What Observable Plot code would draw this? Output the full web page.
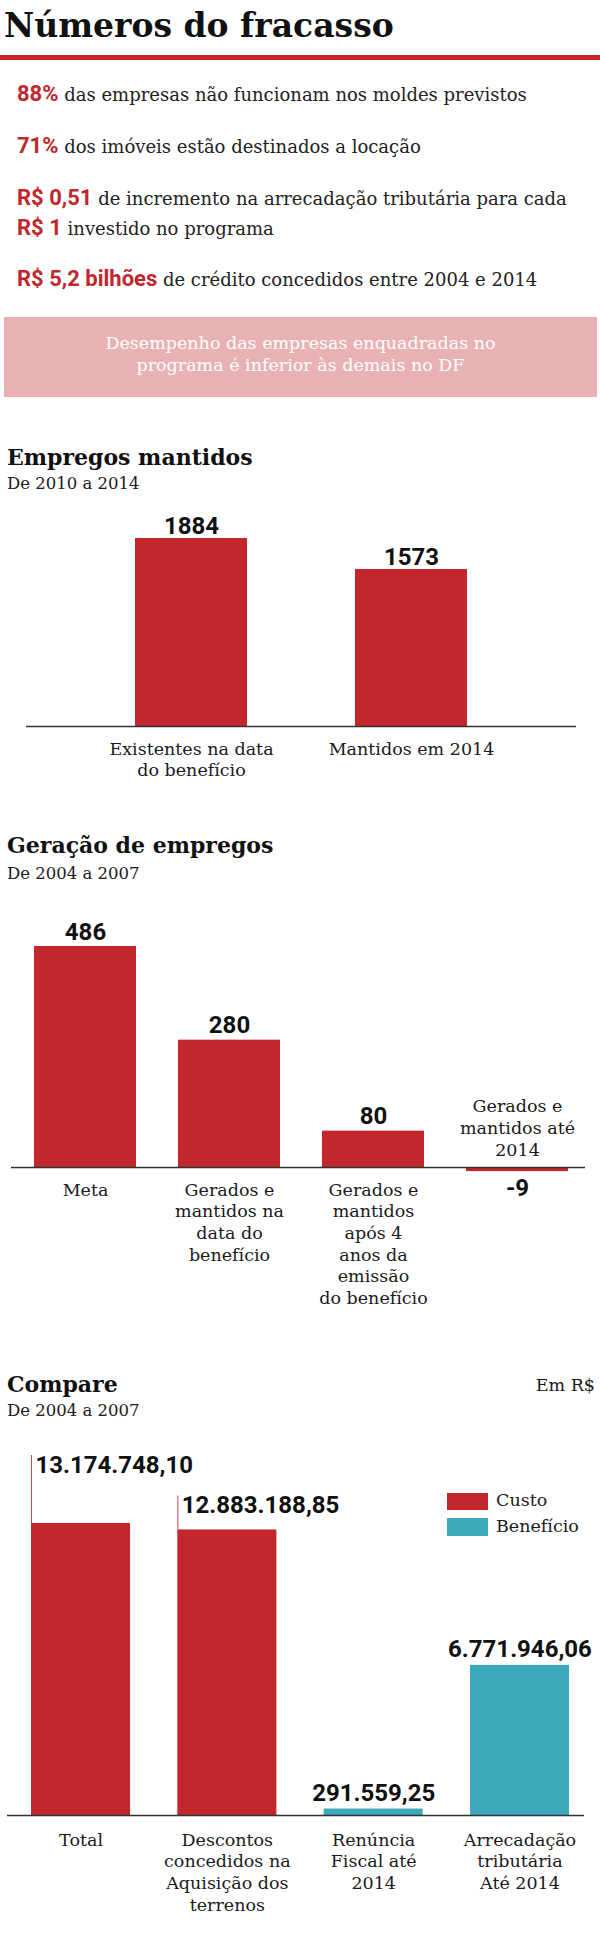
<!DOCTYPE html>
<html><head><meta charset="utf-8">
<script src="https://cdn.jsdelivr.net/npm/d3@7"></script>
<script src="https://cdn.jsdelivr.net/npm/@observablehq/plot@0.6"></script>
<style>
html,body{margin:0;padding:0;background:#fff;}
#page{position:relative;width:600px;height:1937px;overflow:hidden;font-family:"DejaVu Serif",serif;color:#1a1a1a;}
.t{position:absolute;white-space:nowrap;}
.num{font-family:Roboto,sans-serif;font-weight:700;color:#c1272d;}
</style></head><body><div id="page"></div>
<script>
// ---------- data ----------
const headline = "Números do fracasso";
const statNumbers = ["88%", "71%", "R$ 0,51", "R$ 1", "R$ 5,2 bilhões"];
const statTexts = [
  "das empresas não funcionam nos moldes previstos",
  "dos imóveis estão destinados a locação",
  "de incremento na arrecadação tributária para cada",
  "investido no programa",
  "de crédito concedidos entre 2004 e 2014"
];
const bannerLines = ["Desempenho das empresas enquadradas no", "programa é inferior às demais no DF"];

const empregosTitle = "Empregos mantidos";
const empregosSub = "De 2010 a 2014";
const empregosCats = ["Existentes na data\ndo benefício", "Mantidos em 2014"];
const empregosVals = [1884, 1573];

const geracaoTitle = "Geração de empregos";
const geracaoSub = "De 2004 a 2007";
const geracaoCats = [
  "Meta",
  "Gerados e\nmantidos na\ndata do\nbenefício",
  "Gerados e\nmantidos\napós 4\nanos da\nemissão\ndo benefício",
  "Gerados e\nmantidos até\n2014"
];
const geracaoVals = [486, 280, 80, -9];

const compareTitle = "Compare";
const compareSub = "De 2004 a 2007";
const compareUnit = "Em R$";
const compareCats = [
  "Total",
  "Descontos\nconcedidos na\nAquisição dos\nterrenos",
  "Renúncia\nFiscal até\n2014",
  "Arrecadação\ntributária\nAté 2014"
];
const compareVals = [13174748.10, 12883188.85, 291559.25, 6771946.06];
const compareTypes = ["Custo", "Custo", "Benefício", "Benefício"];
const legendKeys = ["Custo", "Benefício"];

// ---------- style ----------
const RED = "#c1272d", TEAL = "#3ba9bb", PINK = "#e8b2b5", INK = "#1a1a1a";
const page = document.getElementById("page");
const fmtBR = d3.formatLocale({decimal: ",", thousands: ".", grouping: [3], currency: ["R$ ", ""]}).format(",.2f");

function put(content, {x, base, size, L = size, font = "DejaVu Serif", weight = 400, color = INK, anchor = "start", asc}) {
  const d = document.createElement("div");
  d.className = "t";
  if (typeof content === "string") d.textContent = content; else d.appendChild(content);
  d.style.fontFamily = font;
  d.style.fontSize = size + "px";
  d.style.lineHeight = L + "px";
  d.style.fontWeight = weight;
  d.style.color = color;
  const a = asc ?? 0.346 * size;
  d.style.top = (base - L / 2 - a) + "px";
  if (anchor === "end") d.style.right = (600 - x) + "px";
  else if (anchor === "middle") { d.style.left = (x - 300) + "px"; d.style.width = "600px"; d.style.textAlign = "center"; }
  else d.style.left = x + "px";
  page.appendChild(d);
  return d;
}
function box(x, y, w, h, color) {
  const d = document.createElement("div");
  Object.assign(d.style, {position: "absolute", left: x + "px", top: y + "px", width: w + "px", height: h + "px", background: color});
  page.appendChild(d);
  return d;
}
function mount(svg, top) {
  svg.style.position = "absolute";
  svg.style.left = "0px";
  svg.style.top = top + "px";
  svg.style.background = "transparent";
  svg.style.overflow = "visible";
  page.appendChild(svg);
}

// ---------- header ----------
put(headline, {x: 4, base: 37, size: 33, weight: 700, color: "#111"});
box(0, 55, 600, 5, RED);

const statBase = [102, 154, 206, 236, 287];
statNumbers.forEach((n, i) => {
  const frag = document.createDocumentFragment();
  const s = document.createElement("span");
  s.className = "num";
  s.style.fontSize = "22px";
  s.textContent = n;
  frag.appendChild(s);
  frag.appendChild(document.createTextNode(" " + statTexts[i]));
  put(frag, {x: 17, base: statBase[i], size: 18, L: 24, asc: 0.342 * 22, color: "#222"});
});

box(4, 317, 593, 80, PINK);
put(bannerLines[0], {x: 300.5, base: 350, size: 17.5, anchor: "middle", color: "#fff"});
put(bannerLines[1], {x: 300.5, base: 372, size: 17.5, anchor: "middle", color: "#fff"});

// ---------- shared chart styles ----------
const chartStyle = {fontFamily: "DejaVu Serif", fontSize: "17.5px", color: INK, background: "transparent", overflow: "visible"};
const valStyle = {fontFamily: "Roboto", fontWeight: 700, fontSize: 24, fill: "#111"};
const axisRule = {stroke: "#333", strokeWidth: 1.5};

// ---------- chart 1 ----------
put(empregosTitle, {x: 7, base: 465, size: 22, weight: 700, color: "#111"});
put(empregosSub, {x: 7, base: 490, size: 16.5});
const d1 = empregosCats.map((c, i) => ({cat: c, value: empregosVals[i]}));
const chart1 = Plot.plot({
  width: 600, height: 300,
  marginTop: 38, marginBottom: 74, marginLeft: 26, marginRight: 24,
  x: {domain: empregosCats, padding: 0.49, axis: null},
  y: {axis: null},
  style: chartStyle,
  marks: [
    Plot.barY(d1, {x: "cat", y: "value", fill: RED}),
    Plot.ruleY([0], axisRule),
    Plot.text(d1, {x: "cat", y: "value", text: d => String(d.value), lineAnchor: "bottom", dy: -5, ...valStyle}),
    Plot.text(d1, {x: "cat", y: 0, text: "cat", lineAnchor: "top", dy: 13.6, lineHeight: 1.2, fontSize: 17.5})
  ]
});
mount(chart1, 500);

// ---------- chart 2 ----------
put(geracaoTitle, {x: 7, base: 853, size: 22, weight: 700, color: "#111"});
put(geracaoSub, {x: 7, base: 880, size: 16.5});
const d2 = geracaoCats.map((c, i) => ({cat: c, value: geracaoVals[i]}));
const pos2 = d2.filter(d => d.value >= 0), neg2 = d2.filter(d => d.value < 0);
const chart2 = Plot.plot({
  width: 600, height: 440,
  marginTop: 56, marginBottom: 158.9, marginLeft: 11, marginRight: 15,
  x: {domain: geracaoCats, range: [33, 569], paddingInner: 0.29, paddingOuter: 0, axis: null},
  y: {axis: null},
  style: chartStyle,
  marks: [
    Plot.barY(d2, {x: "cat", y: "value", fill: RED}),
    Plot.ruleY([0], axisRule),
    Plot.text(pos2, {x: "cat", y: "value", text: d => String(d.value), lineAnchor: "bottom", dy: -7, ...valStyle}),
    Plot.text(neg2, {x: "cat", y: "value", text: d => String(d.value), lineAnchor: "top", dy: 7, ...valStyle}),
    Plot.text(pos2, {x: "cat", y: 0, text: "cat", lineAnchor: "top", dy: 12.6, lineHeight: 1.24, fontSize: 17.5}),
    Plot.text(neg2, {x: "cat", y: 0, text: "cat", lineAnchor: "bottom", dy: -12, lineHeight: 1.24, fontSize: 17.5})
  ]
});
mount(chart2, 890);

// ---------- chart 3 ----------
put(compareTitle, {x: 7, base: 1392, size: 22, weight: 700, color: "#111"});
put(compareSub, {x: 7, base: 1417, size: 16.5});
put(compareUnit, {x: 595, base: 1392, size: 17.5, anchor: "end"});
const d3data = compareCats.map((c, i) => ({cat: c, value: compareVals[i], type: compareTypes[i]}));
const range3 = [31, 569], pad3 = 0.323;
const bw3 = (range3[1] - range3[0]) / (d3data.length - pad3) * (1 - pad3);
const costs = d3data.filter(d => d.type === "Custo");
const bens = d3data.filter(d => d.type !== "Custo");
const costLift = [51, 17];
const chart3 = Plot.plot({
  width: 600, height: 507,
  marginTop: 93, marginBottom: 122, marginLeft: 7, marginRight: 16,
  x: {domain: compareCats, range: range3, paddingInner: pad3, paddingOuter: 0, round: false, axis: null},
  y: {axis: null},
  color: {domain: legendKeys, range: [RED, TEAL]},
  style: chartStyle,
  marks: [
    Plot.barY(d3data, {x: "cat", y: "value", fill: "type"}),
    Plot.ruleY([0], axisRule),
    ...costs.flatMap((d, i) => [
      Plot.ruleX([d], {x: "cat", y1: "value", y2: "value", dx: -bw3 / 2, insetBottom: costLift[i] + 17, stroke: "#d5484e", strokeWidth: 1}),
      Plot.text([d], {x: "cat", y: "value", text: e => fmtBR(e.value), textAnchor: "start", lineAnchor: "bottom", dx: -bw3 / 2 + 4, dy: -costLift[i], ...valStyle})
    ]),
    Plot.text(bens, {x: "cat", y: "value", text: d => fmtBR(d.value), lineAnchor: "bottom", dy: -8, ...valStyle}),
    Plot.text(d3data, {x: "cat", y: 0, text: "cat", lineAnchor: "top", dy: 14.6, lineHeight: 1.24, fontSize: 17.5})
  ]
});
mount(chart3, 1430);

// legend
box(447, 1493, 41, 17, RED);
box(447, 1518, 41, 18, TEAL);
put(legendKeys[0], {x: 496, base: 1507, size: 17.5});
put(legendKeys[1], {x: 496, base: 1533, size: 17.5});
</script></body></html>
